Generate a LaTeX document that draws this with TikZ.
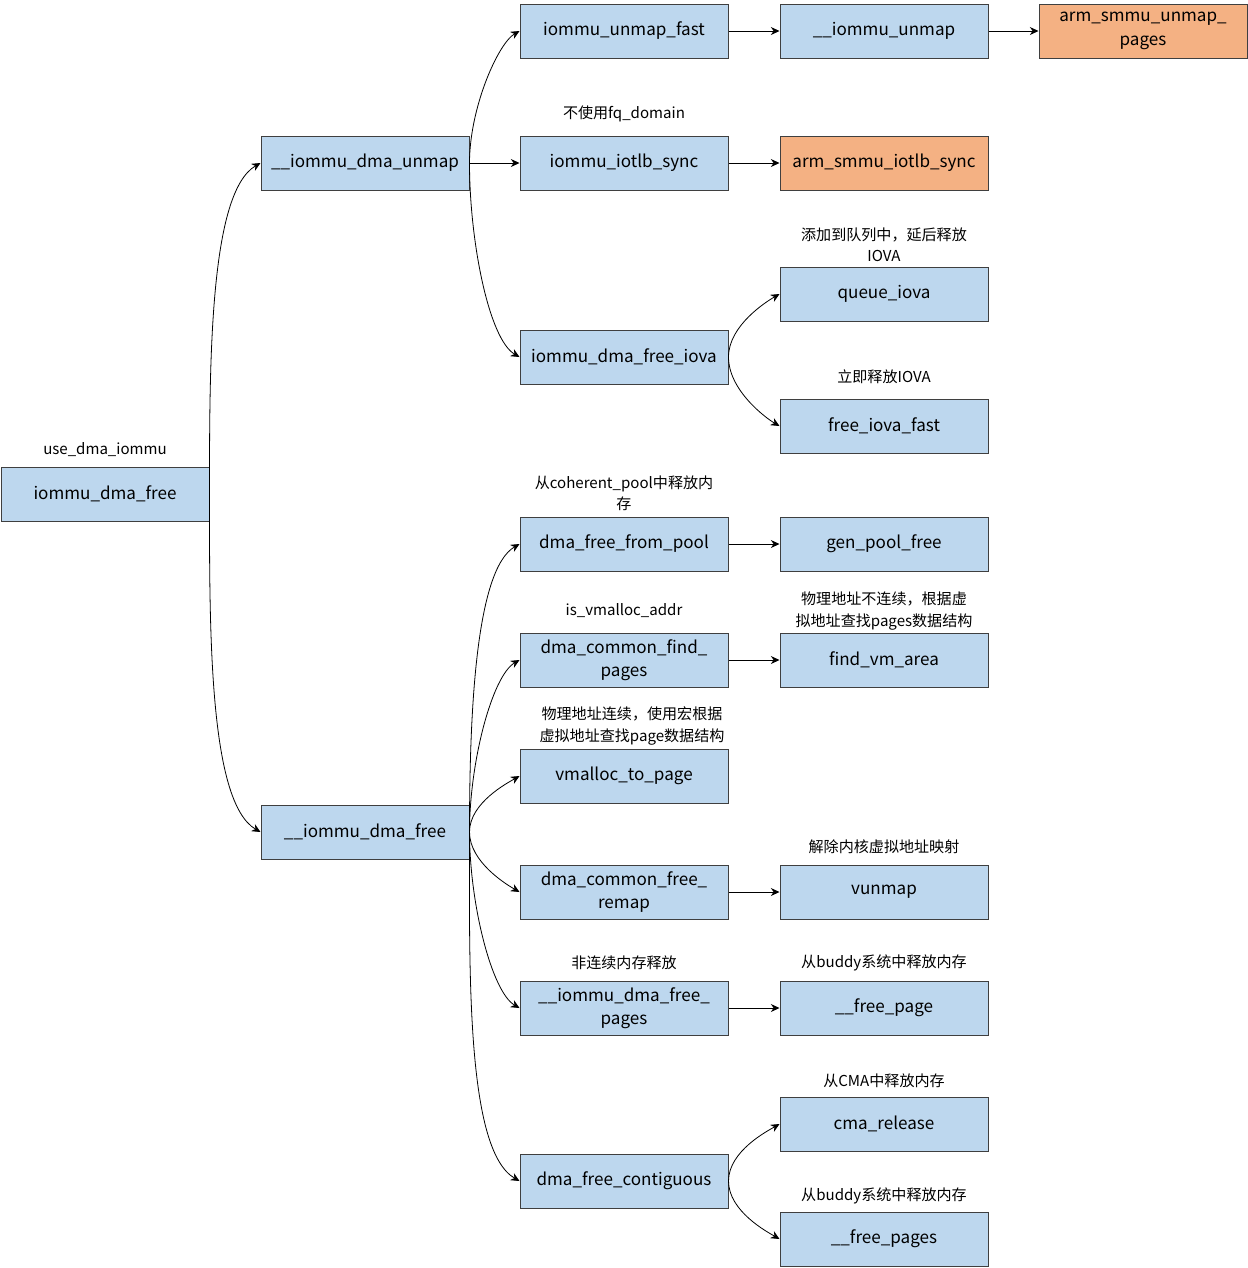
\documentclass[tikz,border=0pt]{standalone}
\usepackage{fontspec}
\setmainfont{Noto Sans CJK SC}
\usetikzlibrary{arrows.meta}

\definecolor{fnblue}{HTML}{BDD7EE}
\definecolor{fnorange}{HTML}{F4B183}
\definecolor{fnline}{HTML}{3F3F3F}

\begin{document}
\begin{tikzpicture}[x=0.75pt, y=-0.75pt,
		fn/.style={draw=fnline, line width=0.75pt, fill=fnblue, minimum width=156pt, minimum height=40.5pt,
			inner sep=0pt, align=center, font=\fontsize{12.8}{17.5}\selectfont},
		hw/.style={fn, fill=fnorange},
		note/.style={align=center, inner sep=0pt, font=\fontsize{11.3}{16}\selectfont},
		bendup/.style={out=90, in=210, out looseness=1, in looseness=0.45},
		benddown/.style={out=-90, in=150, out looseness=1, in looseness=0.45}]
	\useasboundingbox (0,0) rectangle (1248,1268);

	% left column
	\node[fn] (dmafree) at (105,494) {iommu\_dma\_free};
	\node[note] at (105,450) {use\_dma\_iommu};
	\node[fn] (unmap) at (365,163) {\_\_iommu\_dma\_unmap};
	\node[fn] (ifree) at (365,832) {\_\_iommu\_dma\_free};

	% unmap branch
	\node[fn] (unmapfast) at (624,31) {iommu\_unmap\_fast};
	\node[fn] (iunmap) at (884,31) {\_\_iommu\_unmap};
	\node[hw] (smmuunmap) at (1143,31) {arm\_smmu\_unmap\_\\pages};
	\node[fn] (tlbsync) at (624,163) {iommu\_iotlb\_sync};
	\node[note] at (624,114) {不使用fq\_domain};
	\node[hw] (smmusync) at (884,163) {arm\_smmu\_iotlb\_sync};
	\node[fn] (freeiova) at (624,357) {iommu\_dma\_free\_iova};
	\node[fn] (queue) at (884,294) {queue\_iova};
	\node[note] at (884,245) {添加到队列中，延后释放\\IOVA};
	\node[fn] (iovafast) at (884,426) {free\_iova\_fast};
	\node[note] at (884,377) {立即释放IOVA};

	% free branch
	\node[fn] (pool) at (624,544) {dma\_free\_from\_pool};
	\node[note] at (624,493) {从coherent\_pool中释放内\\存};
	\node[fn] (genpool) at (884,544) {gen\_pool\_free};
	\node[fn] (findpages) at (624,660) {dma\_common\_find\_\\pages};
	\node[note] at (624,611) {is\_vmalloc\_addr};
	\node[fn] (vmarea) at (884,660) {find\_vm\_area};
	\node[note] at (884,611) {物理地址不连续，根据虚\\拟地址查找pages数据结构};
	\node[fn] (vmpage) at (624,776) {vmalloc\_to\_page};
	\node[note] at (632,726) {物理地址连续，使用宏根据\\虚拟地址查找page数据结构};
	\node[fn] (remap) at (624,892) {dma\_common\_free\_\\remap};
	\node[fn] (vunmap) at (884,892) {vunmap};
	\node[note] at (884,847) {解除内核虚拟地址映射};
	\node[fn] (freepages) at (624,1008) {\_\_iommu\_dma\_free\_\\pages};
	\node[note] at (624,963) {非连续内存释放};
	\node[fn] (freepage) at (884,1008) {\_\_free\_page};
	\node[note] at (884,963) {从buddy系统中释放内存};
	\node[fn] (contig) at (624,1181) {dma\_free\_contiguous};
	\node[fn] (cma) at (884,1124) {cma\_release};
	\node[note] at (884,1081) {从CMA中释放内存};
	\node[fn] (buddy) at (884,1239) {\_\_free\_pages};
	\node[note] at (884,1196) {从buddy系统中释放内存};

	\begin{scope}[-{Stealth[length=6.5pt, width=6pt]}, line width=0.6pt]
		\draw (dmafree.east) to[bendup] (unmap.west);
		\draw (dmafree.east) to[benddown] (ifree.west);

		\draw (unmap.east) to[bendup] (unmapfast.west);
		\draw (unmap.east) -- (tlbsync.west);
		\draw (unmap.east) to[benddown] (freeiova.west);
		\draw (unmapfast) -- (iunmap);
		\draw (iunmap) -- (smmuunmap);
		\draw (tlbsync) -- (smmusync);
		\draw (freeiova.east) to[bendup] (queue.west);
		\draw (freeiova.east) to[benddown] (iovafast.west);

		\draw (ifree.east) to[bendup] (pool.west);
		\draw (ifree.east) to[bendup] (findpages.west);
		\draw (ifree.east) to[bendup] (vmpage.west);
		\draw (ifree.east) to[benddown] (remap.west);
		\draw (ifree.east) to[benddown] (freepages.west);
		\draw (ifree.east) to[benddown] (contig.west);
		\draw (pool) -- (genpool);
		\draw (findpages) -- (vmarea);
		\draw (remap) -- (vunmap);
		\draw (freepages) -- (freepage);
		\draw (contig.east) to[bendup] (cma.west);
		\draw (contig.east) to[benddown] (buddy.west);
	\end{scope}
\end{tikzpicture}
\end{document}
